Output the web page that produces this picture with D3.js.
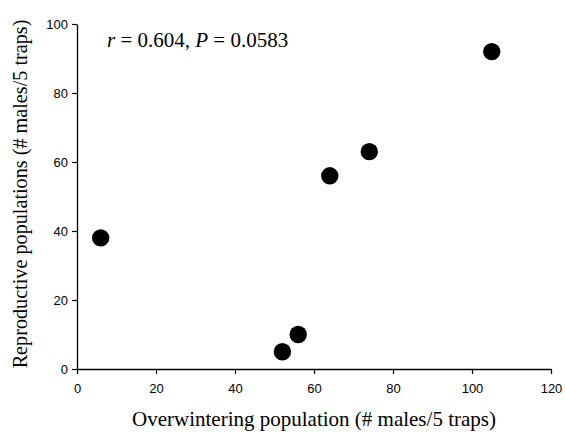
<!DOCTYPE html>
<html><head><meta charset="utf-8">
<script src="https://cdn.jsdelivr.net/npm/d3@7"></script>
<style>body{margin:0;background:#fff}</style>
</head><body>
<svg id="c" width="565" height="433"></svg>
<script>
const xValues = [6, 52, 56, 64, 74, 105];
const yValues = [38, 5, 10, 56, 63, 92];
const xTicks = [0, 20, 40, 60, 80, 100, 120];
const yTicks = [0, 20, 40, 60, 80, 100];
const xLabel = "Overwintering population (# males/5 traps)";
const yLabel = "Reproductive populations (# males/5 traps)";

const svg = d3.select("#c");
const x = d3.scaleLinear().domain([0, 120]).range([77, 551]);
const y = d3.scaleLinear().domain([0, 100]).range([369, 24]);

const xa = svg.append("g").attr("transform", "translate(0,369)")
  .call(d3.axisBottom(x).tickValues(xTicks).tickSize(5).tickPadding(10).tickSizeOuter(0));
const ya = svg.append("g").attr("transform", "translate(77,0)")
  .call(d3.axisLeft(y).tickValues(yTicks).tickSize(5).tickPadding(4).tickSizeOuter(0));
[xa, ya].forEach(a => {
  a.select(".domain").attr("stroke", "#000").attr("stroke-width", 1.3);
  a.selectAll(".tick line").attr("stroke", "#000").attr("stroke-width", 1.2);
  a.selectAll(".tick text").attr("font-family", "Liberation Sans, Arial, sans-serif")
    .attr("font-size", 13).attr("fill", "#000");
});

svg.append("g").selectAll("circle").data(xValues).join("circle")
  .attr("cx", d => x(d)).attr("cy", (d, i) => y(yValues[i])).attr("r", 8.7).attr("fill", "#000");

svg.append("text").attr("x", 314).attr("y", 426).attr("text-anchor", "middle")
  .attr("font-family", "Liberation Serif, Times New Roman, serif").attr("font-size", 21)
  .text(xLabel);
svg.append("text").attr("transform", "translate(27,194) rotate(-90)").attr("text-anchor", "middle")
  .attr("font-family", "Liberation Serif, Times New Roman, serif").attr("font-size", 20.2)
  .text(yLabel);

const t = svg.append("text").attr("x", 107).attr("y", 47)
  .attr("font-family", "Liberation Serif, Times New Roman, serif").attr("font-size", 21);
t.append("tspan").attr("font-style", "italic").text("r");
t.append("tspan").text(" = 0.604, ");
t.append("tspan").attr("font-style", "italic").text("P");
t.append("tspan").text(" = 0.0583");
</script>
</body></html>
